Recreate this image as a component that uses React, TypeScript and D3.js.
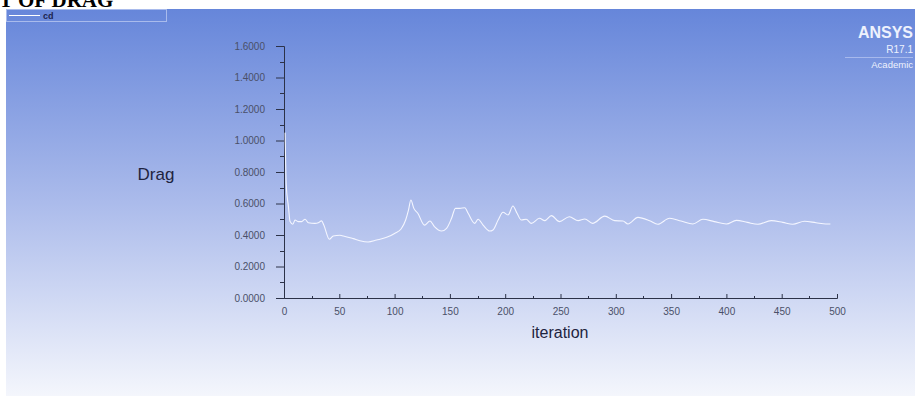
import { useEffect, useRef } from 'react'
import * as d3 from 'd3'

// cd history
const iterations = [
  1, 2, 4, 5.5, 8, 10, 13, 16, 19, 22, 28, 31, 34, 36, 41, 44.5, 50.6, 53.6, 62.6, 68.6, 76,
  83.7, 92.8, 100, 106, 110, 112.6, 114.7, 117.4, 121, 127, 132, 136, 142.5, 147, 151.5, 155,
  159, 163.5, 166.5, 172.5, 175.5, 180, 186, 189, 193.6, 198, 202.6, 207, 210.7, 214.6, 219,
  223.7, 231, 235.8, 241.8, 249, 258, 266, 272, 279, 290, 299, 306.5, 311, 320, 330.6, 338,
  348.7, 359, 369.7, 378.8, 389, 400, 409, 419, 428.5, 440.5, 451, 460, 470.6, 481, 490, 494,
]
const cdValues = [
  1.05, 0.72, 0.58, 0.485, 0.468, 0.495, 0.485, 0.485, 0.5, 0.478, 0.474, 0.478, 0.49, 0.463,
  0.373, 0.394, 0.398, 0.394, 0.377, 0.364, 0.356, 0.368, 0.385, 0.41, 0.44, 0.495, 0.559,
  0.622, 0.569, 0.538, 0.463, 0.489, 0.453, 0.425, 0.442, 0.506, 0.569, 0.569, 0.573, 0.538,
  0.474, 0.5, 0.463, 0.425, 0.432, 0.495, 0.544, 0.527, 0.584, 0.538, 0.495, 0.5, 0.474, 0.506,
  0.491, 0.523, 0.485, 0.516, 0.491, 0.502, 0.474, 0.52, 0.491, 0.489, 0.47, 0.512, 0.491,
  0.468, 0.506, 0.489, 0.47, 0.5, 0.485, 0.47, 0.493, 0.48, 0.468, 0.491, 0.48, 0.468, 0.487,
  0.478, 0.47, 0.47,
]
const yTicks = [0, 0.2, 0.4, 0.6, 0.8, 1.0, 1.2, 1.4, 1.6]
const xTicks = [0, 50, 100, 150, 200, 250, 300, 350, 400, 450, 500]

const width = 915
const height = 399
const font = '"Liberation Sans", Arial, sans-serif'

export default function App() {
  const svgRef = useRef<SVGSVGElement>(null)

  useEffect(() => {
    if (!svgRef.current) return
    const svg = d3.select(svgRef.current)
    svg.selectAll('*').remove()

    const x = d3.scaleLinear().domain([0, 500]).range([284, 837])
    const y = d3.scaleLinear().domain([0, 1.6]).range([298, 46])

    const defs = svg.append('defs')
    const grad = defs
      .append('linearGradient')
      .attr('id', 'bg')
      .attr('x1', 0)
      .attr('y1', 0)
      .attr('x2', 0)
      .attr('y2', 1)
    grad.append('stop').attr('offset', '0%').attr('stop-color', '#6686da')
    grad.append('stop').attr('offset', '50%').attr('stop-color', '#abbbeb')
    grad.append('stop').attr('offset', '100%').attr('stop-color', '#f4f6fc')

    svg.append('rect').attr('width', width).attr('height', height).attr('fill', '#fff')
    svg
      .append('rect')
      .attr('x', 6)
      .attr('y', 9)
      .attr('width', width - 6)
      .attr('height', 387)
      .attr('fill', 'url(#bg)')

    // cropped heading from the document above
    svg
      .append('text')
      .attr('x', -1)
      .attr('y', 7)
      .style('font-family', '"Liberation Serif", "Times New Roman", serif')
      .style('font-weight', 'bold')
      .style('font-size', '21px')
      .style('fill', '#000')
      .text('T OF DRAG')

    // legend
    svg
      .append('rect')
      .attr('x', 6.5)
      .attr('y', 9.5)
      .attr('width', 160)
      .attr('height', 12)
      .attr('fill', 'none')
      .attr('stroke', '#a9bbec')
    svg
      .append('line')
      .attr('x1', 9)
      .attr('x2', 40)
      .attr('y1', 15.5)
      .attr('y2', 15.5)
      .attr('stroke', '#fff')
    svg
      .append('text')
      .attr('x', 43)
      .attr('y', 19)
      .style('font-family', font)
      .style('font-weight', 'bold')
      .style('font-size', '9px')
      .style('fill', '#1c2450')
      .text('cd')

    // logo
    const logo = svg.append('g').style('font-family', font).style('fill', '#eef2fd')
    logo
      .append('text')
      .attr('x', 913)
      .attr('y', 38)
      .attr('text-anchor', 'end')
      .style('font-weight', 'bold')
      .style('font-size', '16px')
      .text('ANSYS')
    logo
      .append('text')
      .attr('x', 913)
      .attr('y', 53)
      .attr('text-anchor', 'end')
      .style('font-size', '10px')
      .text('R17.1')
    logo
      .append('line')
      .attr('x1', 845)
      .attr('x2', 913)
      .attr('y1', 57.5)
      .attr('y2', 57.5)
      .attr('stroke', '#c8d4f6')
      .attr('stroke-width', 0.6)
    logo
      .append('text')
      .attr('x', 913)
      .attr('y', 68)
      .attr('text-anchor', 'end')
      .style('font-size', '9.5px')
      .text('Academic')

    // y axis
    const axisColor = '#2c3248'
    const labelColor = '#4a5068'
    const yAxis = d3
      .axisLeft(y)
      .tickValues(yTicks)
      .tickSize(8)
      .tickPadding(11)
      .tickFormat(d3.format('.4f'))
    const gy = svg.append('g').attr('transform', 'translate(284,0)').call(yAxis)
    gy.select('.domain').attr('stroke', axisColor)
    gy.selectAll('.tick line').attr('stroke', axisColor)
    gy.selectAll('text')
      .style('font-family', font)
      .style('font-size', '10px')
      .style('fill', labelColor)
    const yMinor = d3.range(0.1, 1.6, 0.2)
    svg
      .append('g')
      .selectAll('line')
      .data(yMinor)
      .enter()
      .append('line')
      .attr('x1', 280)
      .attr('x2', 284)
      .attr('y1', (d) => Math.round(y(d)) + 0.5)
      .attr('y2', (d) => Math.round(y(d)) + 0.5)
      .attr('stroke', axisColor)

    // x axis
    const xAxis = d3.axisBottom(x).tickValues(xTicks).tickSize(-4).tickPadding(10)
    const gx = svg.append('g').attr('transform', 'translate(0,298)').call(xAxis)
    gx.select('.domain').attr('stroke', axisColor)
    gx.selectAll('.tick line').attr('stroke', axisColor)
    gx.selectAll('text')
      .style('font-family', font)
      .style('font-size', '10px')
      .style('fill', labelColor)
    svg
      .append('g')
      .selectAll('line')
      .data(d3.range(25, 500, 50))
      .enter()
      .append('line')
      .attr('x1', (d) => Math.round(x(d)) + 0.5)
      .attr('x2', (d) => Math.round(x(d)) + 0.5)
      .attr('y1', 296)
      .attr('y2', 298)
      .attr('stroke', axisColor)

    // axis titles
    svg
      .append('text')
      .attr('x', 156)
      .attr('y', 180)
      .attr('text-anchor', 'middle')
      .style('font-family', font)
      .style('font-size', '17px')
      .style('fill', '#1e2440')
      .text('Drag')
    svg
      .append('text')
      .attr('x', 560)
      .attr('y', 338)
      .attr('text-anchor', 'middle')
      .style('font-family', font)
      .style('font-size', '16px')
      .style('fill', '#1e2440')
      .text('iteration')

    const line = d3
      .line<number>()
      .x((_, i) => x(iterations[i]))
      .y((d) => y(d))
      .curve(d3.curveMonotoneX)
    svg
      .append('path')
      .datum(cdValues)
      .attr('d', line)
      .attr('fill', 'none')
      .attr('stroke', '#f4f6ff')
      .attr('stroke-width', 1.1)
  }, [])

  return (
    <svg
      ref={svgRef}
      width={width}
      height={height}
      style={{ position: 'absolute', left: 0, top: 0 }}
    />
  )
}
